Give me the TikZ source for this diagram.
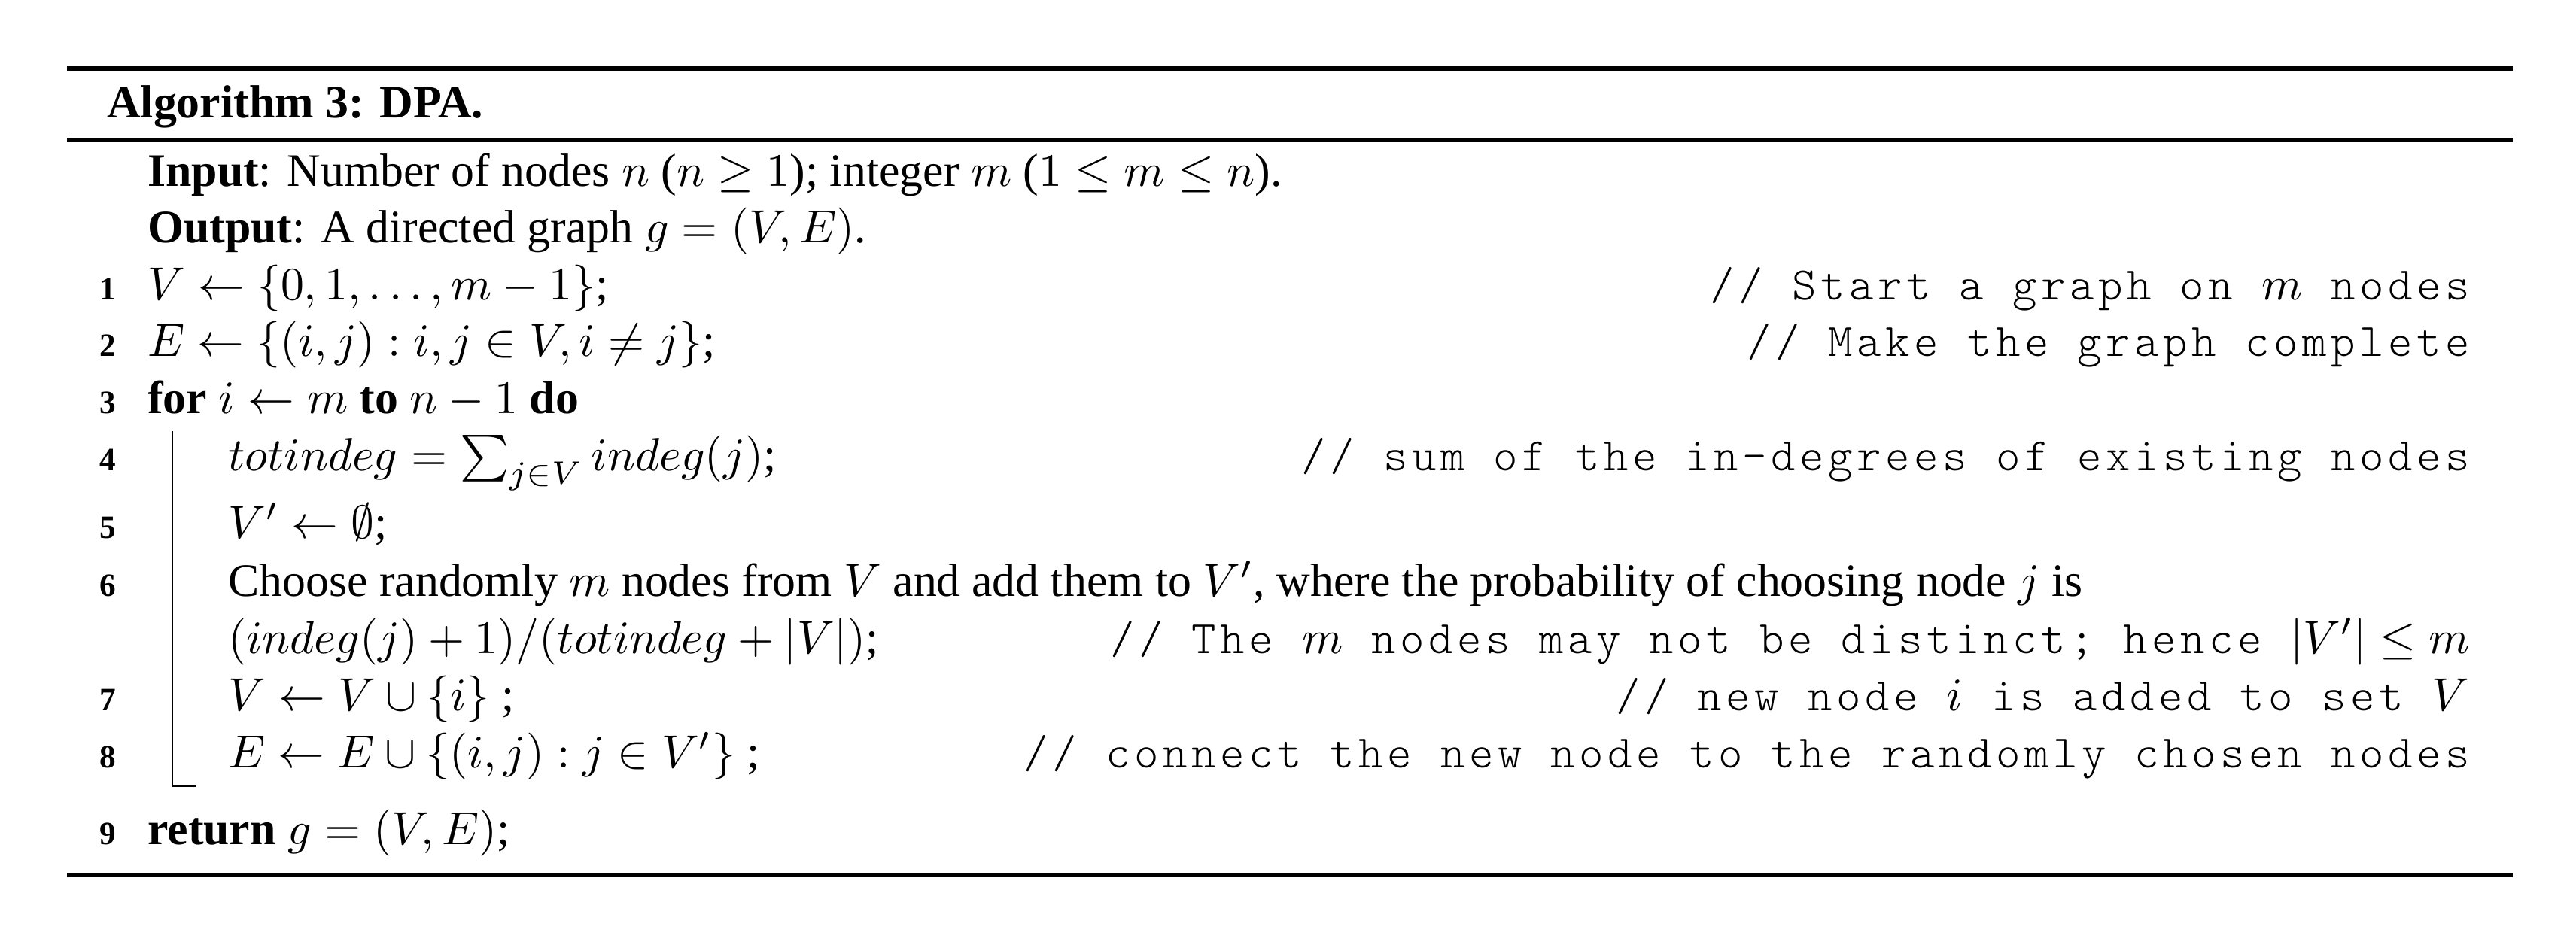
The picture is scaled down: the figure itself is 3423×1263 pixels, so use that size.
\documentclass[tikz,border=0pt]{standalone}
\usepackage[no-math]{fontspec}
\setmainfont{Liberation Serif}
\setmonofont{Latin Modern Mono Light}[LetterSpace=9]
\usepackage{amsmath,amssymb}
\tikzset{
  algline/.style={anchor=base west, inner sep=0pt},
  lineno/.style={anchor=base east, inner sep=0pt, font=\scriptsize\bfseries},
  remark/.style={anchor=base east, inner sep=0pt, font=\ttfamily},
  rule/.style={line width=0.85pt}
}
\begin{document}
\begin{tikzpicture}[x=0.1618pt, y=-0.1618pt]
	\useasboundingbox (0,0) rectangle (3423,1263);
	
	% rules
	\coordinate (topL) at (89,91);
	\coordinate (topR) at (3339,91);
	\coordinate (midL) at (89,186);
	\coordinate (midR) at (3339,186);
	\coordinate (botL) at (89,1163);
	\coordinate (botR) at (3339,1163);
	\draw[rule] (topL) -- (topR);
	\draw[rule] (midL) -- (midR);
	\draw[rule] (botL) -- (botR);
	
	% caption
	\node[algline] (caption) at (141,156) {\textbf{Algorithm 3: DPA.}};
	
	% input/output
	\node[algline] (input) at (195,247) {\textbf{Input}: Number of nodes $n$ ($n \geq 1$); integer $m$ ($1 \leq m \leq n$).};
	\node[algline] (output) at (195,322) {\textbf{Output}: A directed graph $g = (V, E)$.};
	
	% line numbers
	\foreach \n/\y in {1/398, 2/473, 3/549, 4/625, 5/715, 6/792, 7/944, 8/1020, 9/1122}{
		\node[lineno] (no\n) at (155,\y) {\n};
	}
	
	% body
	\node[algline] (l1) at (195,398) {$V \leftarrow \{0, 1, \ldots, m-1\}$;};
	\node[algline] (l2) at (195,473) {$E \leftarrow \{(i,j) : i, j \in V, i \neq j\}$;};
	\node[algline] (l3) at (195,549) {\textbf{for} $i \leftarrow m$ \textbf{to} $n-1$ \textbf{do}};
	\node[algline] (l4) at (302,625) {$totindeg = \sum_{j \in V} indeg(j)$;};
	\node[algline] (l5) at (302,715) {$V' \leftarrow \emptyset$;};
	\node[algline] (l6) at (302,792) {Choose randomly $m$ nodes from $V$ and add them to $V'$, where the probability of choosing node $j$ is};
	\node[algline] (l6b) at (302,868) {$(indeg(j)+1)/(totindeg+|V|)$;};
	\node[algline] (l7) at (302,944) {$V \leftarrow V \cup \{i\}$ ;};
	\node[algline] (l8) at (302,1020) {$E \leftarrow E \cup \{(i,j) : j \in V'\}$ ;};
	\node[algline] (l9) at (195,1122) {\textbf{return} $g = (V, E)$;};
	
	% comments
	\node[remark] (c1) at (3283,398) {// Start a graph on $m$ nodes};
	\node[remark] (c2) at (3283,473) {// Make the graph complete};
	\node[remark] (c4) at (3283,625) {// sum of the in-degrees of existing nodes};
	\node[remark] (c6) at (3283,868) {// The $m$ nodes may not be distinct; hence $|V'| \leq m$};
	\node[remark] (c7) at (3283,944) {// new node $i$ is added to set $V$};
	\node[remark] (c8) at (3283,1020) {// connect the new node to the randomly chosen nodes};
	
	% block bar
	\coordinate (bartop) at (229,573);
	\coordinate (barfoot) at (261,1045);
	\draw[line width=0.4pt] (bartop) |- (barfoot);
\end{tikzpicture}
\end{document}
